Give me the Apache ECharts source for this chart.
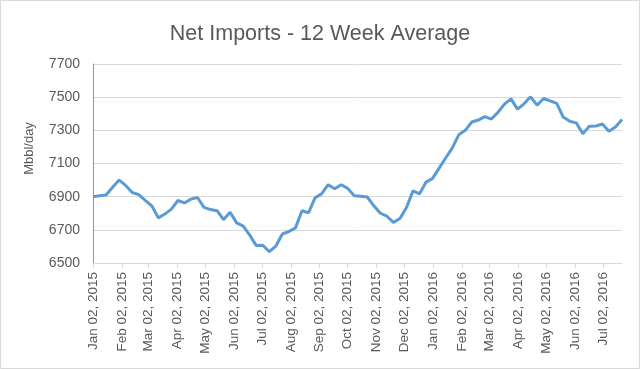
<!DOCTYPE html>
<html>
<head>
<meta charset="utf-8">
<script src="https://cdn.jsdelivr.net/npm/echarts@6/dist/echarts.min.js"></script>
<style>
html,body{margin:0;padding:0;background:#fff;}
#c{width:640px;height:369px;}
</style>
</head>
<body>
<div id="c"></div>
<script>
const weekDates = [
 '2015-01-02','2015-01-09','2015-01-16','2015-01-23','2015-01-30',
 '2015-02-06','2015-02-13','2015-02-20','2015-02-27',
 '2015-03-06','2015-03-13','2015-03-20','2015-03-27',
 '2015-04-03','2015-04-10','2015-04-17','2015-04-24',
 '2015-05-01','2015-05-08','2015-05-15','2015-05-22','2015-05-29',
 '2015-06-05','2015-06-12','2015-06-19','2015-06-26',
 '2015-07-03','2015-07-10','2015-07-17','2015-07-24','2015-07-31',
 '2015-08-07','2015-08-14','2015-08-21','2015-08-28',
 '2015-09-04','2015-09-11','2015-09-18','2015-09-25',
 '2015-10-02','2015-10-09','2015-10-16','2015-10-23','2015-10-30',
 '2015-11-06','2015-11-13','2015-11-20','2015-11-27',
 '2015-12-04','2015-12-11','2015-12-18','2015-12-25',
 '2016-01-01','2016-01-08','2016-01-15','2016-01-22','2016-01-29',
 '2016-02-05','2016-02-12','2016-02-19','2016-02-26',
 '2016-03-04','2016-03-11','2016-03-18','2016-03-25',
 '2016-04-01','2016-04-08','2016-04-15','2016-04-22','2016-04-29',
 '2016-05-06','2016-05-13','2016-05-20','2016-05-27',
 '2016-06-03','2016-06-10','2016-06-17','2016-06-24',
 '2016-07-01','2016-07-08','2016-07-15','2016-07-22'
];
const netImports = [
 6900,6905,6910,6957,7000,6968,6925,6912,6878,6845,
 6772,6795,6825,6877,6862,6885,6895,6835,6822,6815,
 6762,6806,6742,6722,6668,6605,6607,6568,6602,6675,
 6690,6712,6815,6803,6893,6917,6972,6948,6972,6950,
 6905,6903,6898,6845,6800,6782,6745,6768,6835,6935,
 6917,6988,7010,7072,7133,7193,7273,7300,7350,7362,
 7383,7368,7408,7458,7490,7428,7460,7502,7452,7492,
 7478,7462,7380,7355,7345,7280,7325,7326,7338,7295,
 7320,7365
];
const tickDates = [
 '2015-01-02','2015-02-02','2015-03-02','2015-04-02','2015-05-02','2015-06-02',
 '2015-07-02','2015-08-02','2015-09-02','2015-10-02','2015-11-02','2015-12-02',
 '2016-01-02','2016-02-02','2016-03-02','2016-04-02','2016-05-02','2016-06-02','2016-07-02'
];
const tickLabels = [
 'Jan 02, 2015','Feb 02, 2015','Mar 02, 2015','Apr 02, 2015','May 02, 2015','Jun 02, 2015',
 'Jul 02, 2015','Aug 02, 2015','Sep 02, 2015','Oct 02, 2015','Nov 02, 2015','Dec 02, 2015',
 'Jan 02, 2016','Feb 02, 2016','Mar 02, 2016','Apr 02, 2016','May 02, 2016','Jun 02, 2016','Jul 02, 2016'
];
const yTicks = [6500,6700,6900,7100,7300,7500,7700];

function ts(s){ const p=s.split('-').map(Number); return Date.UTC(p[0],p[1]-1,p[2]); }
const xVals = weekDates.map(ts);
const tickVals = tickDates.map(ts);
const seriesData = xVals.map((x,i)=>[x, netImports[i]]);

const FONT = 'Liberation Sans';
const chart = echarts.init(document.getElementById('c'), null, {renderer:'canvas'});
chart.setOption({
  animation:false,
  backgroundColor:'#ffffff',
  title:{
    text:'Net Imports - 12 Week Average',
    left:'center', top:18,
    textStyle:{fontFamily:FONT, fontSize:21.5, fontWeight:'normal', color:'#595959'}
  },
  graphic:[{type:'rect', shape:{x:0.5,y:0.5,width:639,height:368}, style:{fill:'none', stroke:'#d9d9d9', lineWidth:1}, silent:true}],
  grid:{left:93, right:18, top:64, bottom:106, containLabel:false},
  xAxis:{
    type:'value',
    min:xVals[0], max:xVals[xVals.length-1],
    splitLine:{show:false},
    axisLine:{show:true, lineStyle:{color:'#d9d9d9', width:1}},
    axisTick:{show:true, customValues:tickVals, length:5, lineStyle:{color:'#d9d9d9'}},
    axisLabel:{
      customValues:tickVals, rotate:90, margin:9,
      fontFamily:FONT, fontSize:13.5, color:'#595959',
      formatter:function(v){
        let best=0, bd=Infinity;
        for(let i=0;i<tickVals.length;i++){ const d=Math.abs(tickVals[i]-v); if(d<bd){bd=d;best=i;} }
        return tickLabels[best];
      }
    }
  },
  yAxis:{
    type:'value', min:yTicks[0], max:yTicks[yTicks.length-1], interval:200,
    name:'Mbbl/day', nameLocation:'middle', nameGap:57, nameRotate:90,
    nameTextStyle:{fontFamily:FONT, fontSize:13, color:'#595959', padding:[0,0,0,30]},
    axisLine:{show:true, lineStyle:{color:'#6a9fd4', width:1}},
    axisTick:{show:false},
    splitLine:{show:true, lineStyle:{color:'#d9d9d9', width:1}},
    axisLabel:{fontFamily:FONT, fontSize:14, color:'#595959', margin:13,
      formatter:function(v){ return String(v); }}
  },
  series:[{
    type:'line', data:seriesData, showSymbol:false, symbol:'none',
    lineStyle:{color:'#5b9bd5', width:3}, itemStyle:{color:'#5b9bd5'}
  }]
});
</script>
</body>
</html>
